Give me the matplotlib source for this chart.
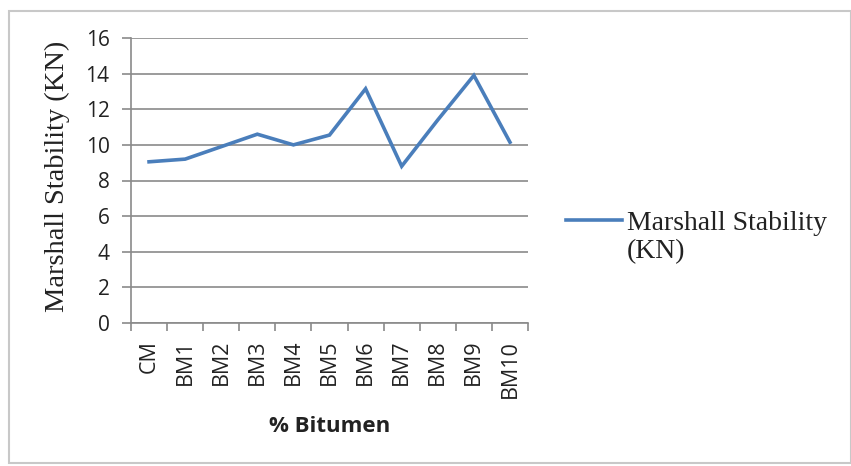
import matplotlib
matplotlib.use("Agg")
import matplotlib.pyplot as plt
from matplotlib.patches import Rectangle
from matplotlib.lines import Line2D

categories = ["CM", "BM1", "BM2", "BM3", "BM4", "BM5", "BM6", "BM7", "BM8", "BM9", "BM10"]
stability = [9.05, 9.2, 9.9, 10.6, 10.0, 10.55, 13.15, 8.8, 11.4, 13.9, 10.15]
y_ticks = [0, 2, 4, 6, 8, 10, 12, 14, 16]
series_name_l1 = "Marshall Stability"
series_name_l2 = "(KN)"
y_label = "Marshall Stability (KN)"
x_label = "% Bitumen"

W, H = 851, 466
fig = plt.figure(figsize=(W / 100, H / 100), dpi=100)
fig.patch.set_facecolor("white")

# chart border
fig.add_artist(Rectangle((9 / W, 1 - 463 / H), (W - 9) / W, (463 - 11) / H,
                         transform=fig.transFigure, fill=False,
                         edgecolor="#c8c8c8", linewidth=1.5))

L, R, T, B = 131, 528, 38, 323
ax = fig.add_axes([L / W, 1 - B / H, (R - L) / W, (B - T) / H])
x = list(range(len(categories)))
line_color = "#4a7ebb"
ax.plot(x, stability, color=line_color, linewidth=2.6, solid_joinstyle="miter")

ax.set_xlim(-0.5, len(categories) - 0.5)
ax.set_ylim(0, 16)
ax.set_yticks(y_ticks)
ax.set_yticklabels([str(v) for v in y_ticks], fontsize=15, family="Open Sans", color="#222222")
ax.yaxis.grid(True, color="#8a8a8a", linewidth=1.2)
ax.set_axisbelow(True)

ax.set_xticks(x)
ax.set_xticklabels(categories, rotation=90, fontsize=15.5, family="Open Sans", color="#222222")
ax.tick_params(axis="x", length=0, pad=12)
ax.set_xticks([i - 0.5 for i in range(len(categories) + 1)], minor=True)
ax.tick_params(axis="x", which="minor", length=6, color="#8a8a8a", width=1.2)
ax.tick_params(axis="y", length=6.5, color="#8a8a8a", width=1.2, pad=9)

for s in ["top", "right"]:
    ax.spines[s].set_visible(False)
for s in ["left", "bottom"]:
    ax.spines[s].set_color("#8a8a8a")
    ax.spines[s].set_linewidth(1.2)

ax.set_ylabel(y_label, fontsize=20.5, family="Liberation Serif", color="#222222")
ax.yaxis.set_label_coords((70 - L) / (R - L), 0.515)
ax.set_xlabel(x_label, fontsize=16, family="Open Sans", fontweight="bold", color="#222222")
ax.xaxis.set_label_coords(0.5, (B - 416) / (B - T))

# legend (first line aligned with the handle, as in the original)
handle = Line2D([], [], color=line_color, linewidth=2.6)
fig.legend([handle], [series_name_l1], loc="center left",
           bbox_to_anchor=(541 / W, 1 - 223 / H), frameon=False,
           prop={"family": "Liberation Serif", "size": 20}, handlelength=2.0,
           handletextpad=0.2, labelcolor="#222222")
fig.text(627 / W, 1 - 252 / H, series_name_l2, family="Liberation Serif", fontsize=20,
         color="#222222", va="center", ha="left")

fig.savefig("out.png", dpi=100, facecolor="white")
